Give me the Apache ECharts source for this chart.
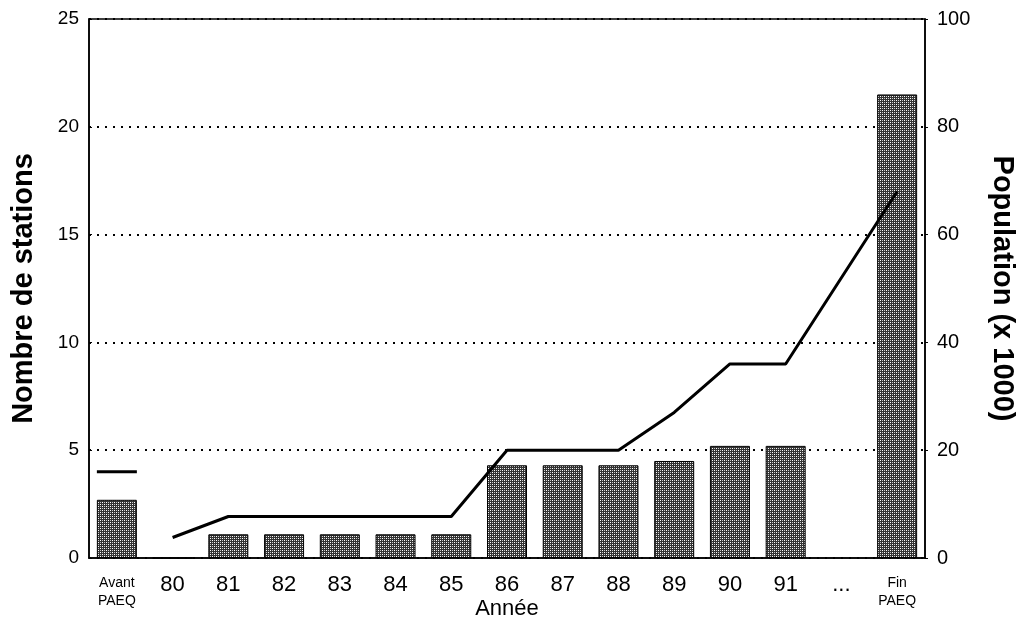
<!DOCTYPE html>
<html>
<head>
<meta charset="utf-8">
<script src="https://cdn.jsdelivr.net/npm/echarts@6/dist/echarts.min.js"></script>
<style>
html,body{margin:0;padding:0;background:#fff;}
#chart{width:1021px;height:635px;}
</style>
</head>
<body>
<div id="chart"></div>
<script>
var categories = ['Avant\nPAEQ','80','81','82','83','84','85','86','87','88','89','90','91','...','Fin\nPAEQ'];
var stations = [2.7, 0, 1.1, 1.1, 1.1, 1.1, 1.1, 4.3, 4.3, 4.3, 4.5, 5.2, 5.2, null, 21.5];
var population = [null, 3.8, 7.7, 7.7, 7.7, 7.7, 7.7, 20, 20, 20, 27, 36, 36, null, 68];
var populationAvant = [16, null, null, null, null, null, null, null, null, null, null, null, null, null, null];
var leftTicks = [0, 5, 10, 15, 20, 25];
var rightTicks = [0, 20, 40, 60, 80, 100];

// dithered pattern for bars
var pc = document.createElement('canvas');
pc.width = 4; pc.height = 4;
var pctx = pc.getContext('2d');
pctx.fillStyle = '#333333';
pctx.fillRect(0, 0, 4, 4);
pctx.fillStyle = '#ffffff';
pctx.fillRect(0, 0, 1, 1);
pctx.fillRect(2, 2, 1, 1);
pctx.fillStyle = '#c8c8c8';
pctx.fillRect(2, 0, 1, 1);
pctx.fillRect(0, 2, 1, 1);

var chart = echarts.init(document.getElementById('chart'), null, {renderer: 'canvas'});
var font = 'Liberation Sans, Arial, Helvetica, sans-serif';
chart.setOption({
  animation: false,
  backgroundColor: '#fff',
  textStyle: {fontFamily: font, color: '#000'},
  grid: {left: 89, right: 96, top: 19, bottom: 77, show: true, borderColor: '#000', borderWidth: 1.5,
         containLabel: false, outerBoundsMode: 'none'},
  xAxis: {
    type: 'category',
    data: categories,
    name: 'Année',
    nameLocation: 'middle',
    nameGap: 40,
    nameMoveOverlap: false,
    nameTextStyle: {fontSize: 22, color: '#000', fontFamily: font},
    axisLine: {show: true, lineStyle: {color: '#000', width: 1.5}},
    axisTick: {show: false},
    axisLabel: {
      color: '#000', fontSize: 22, fontFamily: font, margin: 16, interval: 0,
      formatter: function (v) {
        if (v.indexOf('\n') >= 0) {
          var p = v.split('\n');
          return '{s|' + p[0] + '}\n{s|' + p[1] + '}';
        }
        return v;
      },
      rich: {s: {fontSize: 14, lineHeight: 18, fontFamily: font, color: '#000'}}
    }
  },
  yAxis: [
    {
      type: 'value', min: 0, max: 25, interval: 5,
      name: 'Nombre de stations',
      nameLocation: 'middle', nameGap: 51, nameRotate: 90, nameMoveOverlap: false,
      nameTextStyle: {fontSize: 29, fontWeight: 'bold', color: '#000', fontFamily: font},
      axisLine: {show: true, lineStyle: {color: '#000', width: 1.5}},
      axisTick: {show: true, inside: true, length: 3, lineStyle: {color: '#000'}},
      axisLabel: {color: '#000', fontSize: 19, fontFamily: font, margin: 10,
        formatter: function (v) { return leftTicks.indexOf(v) >= 0 ? String(v) : ''; }},
      splitLine: {show: true, lineStyle: {color: '#000', type: [2, 6], width: 2}}
    },
    {
      type: 'value', min: 0, max: 100, interval: 20,
      name: 'Population (x 1000)',
      nameLocation: 'middle', nameGap: 62, nameRotate: -90, nameMoveOverlap: false,
      nameTextStyle: {fontSize: 29, fontWeight: 'bold', color: '#000', fontFamily: font},
      axisLine: {show: true, lineStyle: {color: '#000', width: 1.5}},
      axisTick: {show: true, inside: false, length: 3, lineStyle: {color: '#000'}},
      axisLabel: {color: '#000', fontSize: 20, fontFamily: font, margin: 12,
        formatter: function (v) { return rightTicks.indexOf(v) >= 0 ? String(v) : ''; }},
      splitLine: {show: false}
    }
  ],
  series: [
    {
      type: 'bar', yAxisIndex: 0, data: stations, barWidth: 40,
      itemStyle: {color: {image: pc, repeat: 'repeat'}, borderColor: '#000', borderWidth: 1}
    },
    {
      type: 'line', yAxisIndex: 1, data: population, connectNulls: true,
      showSymbol: false, symbol: 'none',
      lineStyle: {color: '#000', width: 3}, z: 5
    },
    {
      type: 'scatter', yAxisIndex: 1, data: populationAvant,
      symbol: 'rect', symbolSize: [40, 3],
      itemStyle: {color: '#000', opacity: 1}, z: 5
    }
  ]
});
</script>
</body>
</html>
